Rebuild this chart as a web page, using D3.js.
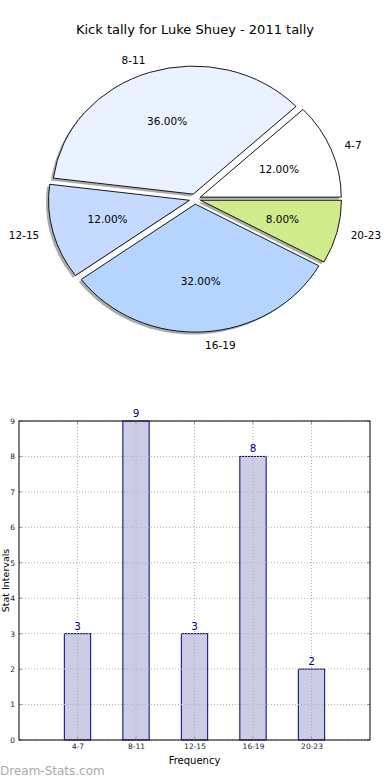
<!DOCTYPE html>
<html>
<head>
<meta charset="utf-8">
<script src="https://cdn.jsdelivr.net/npm/d3@7"></script>
<style>
html,body{margin:0;padding:0;background:#fff;}
svg{display:block;font-family:"DejaVu Sans",sans-serif;}
</style>
</head>
<body>
<svg id="c" width="390" height="780"></svg>
<script>
const title = "Kick tally for Luke Shuey - 2011 tally";
const categories = ["4-7","8-11","12-15","16-19","20-23"];
const counts = [3,9,3,8,2];
const sliceColors = ["#ffffff","#eaf2ff","#c6d9ff","#b5d5ff","#d0eb8a"];
const explode = [0.04,0.04,0.04,0.04,0.04];
const yTicks = [0,1,2,3,4,5,6,7,8,9];
const yLabel = "Stat Intervals";
const xLabel = "Frequency";
const watermark = "Dream-Stats.com";

const svg = d3.select("#c");

// ---------- Pie ----------
svg.append("text").attr("x",195).attr("y",34).attr("text-anchor","middle")
  .attr("font-size",13).attr("fill","#000").text(title);

const cx = 195, cy = 199, rx = 141, ry = 128;
const total = d3.sum(counts);
let acc = 0;
const slices = counts.map((v,i)=>{
  const t1 = acc/total*2*Math.PI; acc += v; const t2 = acc/total*2*Math.PI;
  const mid = (t1+t2)/2;
  return {i, v, t1, t2, mid,
    ox: cx + explode[i]*rx*Math.cos(mid),
    oy: cy - explode[i]*ry*Math.sin(mid)};
});
const arc = d3.arc().innerRadius(0).outerRadius(1);
function wedgePath(s){
  return arc({startAngle: Math.PI/2 - s.t2, endAngle: Math.PI/2 - s.t1});
}
const pie = svg.append("g");
slices.forEach(s=>{
  pie.append("path").attr("d", wedgePath(s))
    .attr("transform",`translate(${s.ox-0.018*rx},${s.oy+0.018*ry}) scale(${rx},${ry})`)
    .attr("fill","#666").attr("fill-opacity",0.55).attr("stroke","none");
});
slices.forEach(s=>{
  pie.append("path").attr("d", wedgePath(s))
    .attr("transform",`translate(${s.ox},${s.oy}) scale(${rx},${ry})`)
    .attr("fill",sliceColors[s.i]).attr("stroke","#000").attr("stroke-width",0.9)
    .attr("vector-effect","non-scaling-stroke");
});
slices.forEach(s=>{
  const c = Math.cos(s.mid), sn = Math.sin(s.mid);
  pie.append("text").attr("x", s.ox + 1.1*rx*c).attr("y", s.oy - 1.1*ry*sn)
    .attr("text-anchor", c>=0 ? "start":"end").attr("dominant-baseline","central")
    .attr("font-size",10.5).text(categories[s.i]);
  pie.append("text").attr("x", s.ox + 0.6*rx*c).attr("y", s.oy - 0.6*ry*sn)
    .attr("text-anchor","middle").attr("dominant-baseline","central")
    .attr("font-size",10.5).text((s.v/total*100).toFixed(2)+"%");
});

// ---------- Bar ----------
const L=19, R=370, T=421, B=740;
const x = d3.scaleLinear().domain([-1,5]).range([L,R]);
const y = d3.scaleLinear().domain([0,9]).range([B,T]);
const bw = 0.45;
const g = svg.append("g");

g.selectAll("rect.bar").data(counts).enter().append("rect")
  .attr("x",(d,i)=>x(i-bw/2)).attr("width",x(bw)-x(0))
  .attr("y",d=>y(d)).attr("height",d=>y(0)-y(d))
  .attr("fill","#ccccE4").attr("stroke","#000080").attr("stroke-width",1);

g.selectAll("line.gy").data(yTicks).enter().append("line")
  .attr("x1",L).attr("x2",R).attr("y1",d=>y(d)).attr("y2",d=>y(d))
  .attr("stroke","#b0b0b0").attr("stroke-width",1).attr("stroke-dasharray","1,2");
g.selectAll("line.gx").data(categories).enter().append("line")
  .attr("y1",T).attr("y2",B).attr("x1",(d,i)=>x(i)).attr("x2",(d,i)=>x(i))
  .attr("stroke","#b0b0b0").attr("stroke-width",1).attr("stroke-dasharray","1,2");

g.selectAll("text.val").data(counts).enter().append("text")
  .attr("x",(d,i)=>x(i)).attr("y",d=>y(d)-4).attr("text-anchor","middle")
  .attr("font-size",10.5).attr("fill","#000080").text(d=>d);

const ya = d3.axisLeft(y).tickValues(yTicks).tickSize(0).tickPadding(4);
g.append("g").attr("transform",`translate(${L},0)`).call(ya)
  .call(s=>s.select(".domain").remove())
  .selectAll("text").attr("font-size",7.5).attr("fill","#222").attr("font-family","DejaVu Sans");
const xa = d3.axisBottom(x).tickValues(d3.range(categories.length)).tickFormat(i=>categories[i]).tickSize(0).tickPadding(4);
g.append("g").attr("transform",`translate(0,${B})`).call(xa)
  .call(s=>s.select(".domain").remove())
  .selectAll("text").attr("font-size",7.5).attr("fill","#222").attr("font-family","DejaVu Sans");
yTicks.forEach(t=>{
  g.append("line").attr("x1",L).attr("x2",L+3).attr("y1",y(t)).attr("y2",y(t)).attr("stroke","#999");
  g.append("line").attr("x1",R).attr("x2",R-3).attr("y1",y(t)).attr("y2",y(t)).attr("stroke","#999");
});
categories.forEach((c,i)=>{
  g.append("line").attr("y1",B).attr("y2",B-3).attr("x1",x(i)).attr("x2",x(i)).attr("stroke","#999");
  g.append("line").attr("y1",T).attr("y2",T+3).attr("x1",x(i)).attr("x2",x(i)).attr("stroke","#999");
});
g.append("rect").attr("x",L).attr("y",T).attr("width",R-L).attr("height",B-T)
  .attr("fill","none").attr("stroke","#000").attr("stroke-width",1);

svg.append("text").attr("x",(L+R)/2).attr("y",764).attr("text-anchor","middle")
  .attr("font-size",10).text(xLabel);
svg.append("text").attr("transform",`translate(5.5,${(T+B)/2}) rotate(-90)`)
  .attr("text-anchor","middle").attr("font-size",9.5).attr("dominant-baseline","central").text(yLabel);

svg.append("text").attr("x",0).attr("y",775).attr("font-size",12)
  .attr("fill","#aaaaaa").text(watermark);
</script>
</body>
</html>
